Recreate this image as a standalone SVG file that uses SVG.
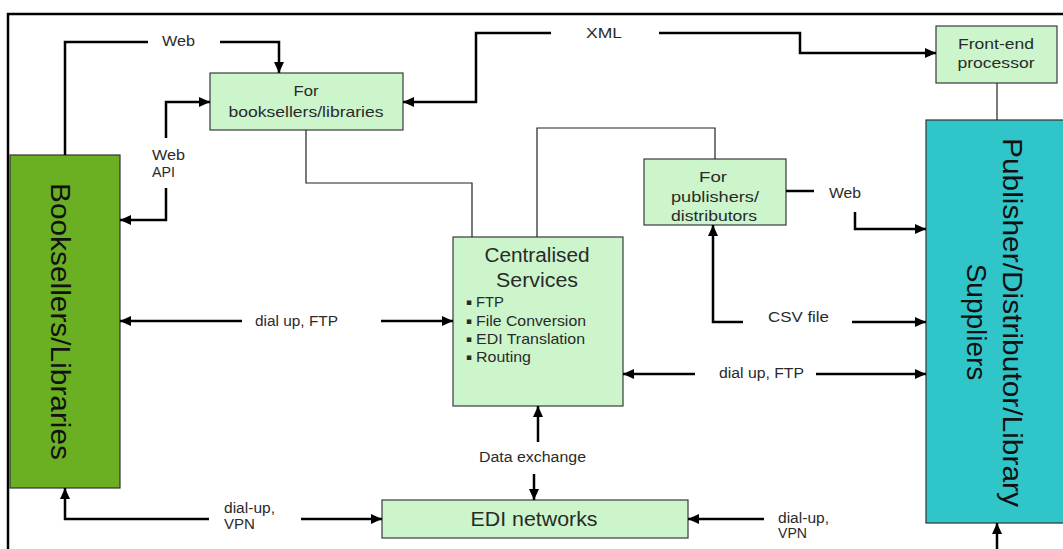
<svg xmlns="http://www.w3.org/2000/svg" width="1063" height="549" viewBox="0 0 1063 549">
<style>
.box{fill:#ccf5cc;stroke:#3a3a3a;stroke-width:1.2}
.lbl{font-family:"Liberation Sans",Arial,sans-serif;font-size:14px;fill:#2a2a2a}
.bx{font-family:"Liberation Sans",Arial,sans-serif;font-size:15px;fill:#2a2a2a}
.bul{font-family:"DejaVu Sans",sans-serif;font-size:9px;fill:#2a2a2a}
.ttl{font-family:"Liberation Sans",Arial,sans-serif;font-size:20px;fill:#2a2a2a}
.big{font-family:"Liberation Sans",Arial,sans-serif;font-size:28px;fill:#111}
.c{fill:none;stroke:#000;stroke-width:2.5}
.t{fill:none;stroke:#222;stroke-width:1.2}
</style>
<defs>
<marker id="ah" markerUnits="userSpaceOnUse" markerWidth="12" markerHeight="10" refX="11" refY="5" orient="auto">
<path d="M0,0 L11,5 L0,10 z" fill="#000"/>
</marker>
</defs>
<rect width="1063" height="549" fill="#fff"/>
<path d="M8,549 V14 H1063" fill="none" stroke="#000" stroke-width="2.5"/>

<g id="booksellers">
<rect x="10" y="155" width="110" height="333" fill="#6ab022" stroke="#333" stroke-width="1.2"/>
<text class="big" transform="translate(51,321.5) rotate(90)" text-anchor="middle" font-size="29" textLength="277" lengthAdjust="spacingAndGlyphs" fill="#15230a">Booksellers/Libraries</text>
</g>

<g id="publishers">
<rect x="926" y="120" width="150" height="403" fill="#30c5c9" stroke="#333" stroke-width="1.2"/>
<text class="big" transform="translate(1003,322.5) rotate(90)" text-anchor="middle" textLength="369" lengthAdjust="spacingAndGlyphs">Publisher/Distributor/Library</text>
<text class="big" transform="translate(967,322) rotate(90)" text-anchor="middle">Suppliers</text>
</g>

<g id="for-booksellers">
<rect class="box" x="210" y="73" width="193" height="57"/>
<text class="bx" x="306" y="96" text-anchor="middle" textLength="25" lengthAdjust="spacingAndGlyphs">For</text>
<text class="bx" x="306" y="117" text-anchor="middle" textLength="155" lengthAdjust="spacingAndGlyphs">booksellers/libraries</text>
</g>

<g id="front-end">
<rect class="box" x="936" y="26" width="121" height="57"/>
<text class="bx" x="996" y="49" text-anchor="middle" textLength="76" lengthAdjust="spacingAndGlyphs">Front-end</text>
<text class="bx" x="996" y="68" text-anchor="middle" textLength="77" lengthAdjust="spacingAndGlyphs">processor</text>
</g>

<g id="for-publishers">
<rect class="box" x="644" y="159" width="142" height="66"/>
<text class="bx" x="713" y="182" text-anchor="middle" textLength="28" lengthAdjust="spacingAndGlyphs">For</text>
<text class="bx" x="715" y="202" text-anchor="middle" textLength="88" lengthAdjust="spacingAndGlyphs">publishers/</text>
<text class="bx" x="714" y="221" text-anchor="middle" textLength="86" lengthAdjust="spacingAndGlyphs">distributors</text>
</g>

<g id="centralised">
<rect class="box" x="453" y="237" width="170" height="169"/>
<text class="ttl" x="537" y="262" text-anchor="middle" textLength="105" lengthAdjust="spacingAndGlyphs">Centralised</text>
<text class="ttl" x="537" y="287" text-anchor="middle" textLength="82" lengthAdjust="spacingAndGlyphs">Services</text>
<text class="bul" x="466" y="305">▪</text>
<text class="bul" x="466" y="324">▪</text>
<text class="bul" x="466" y="342">▪</text>
<text class="bul" x="466" y="360">▪</text>
<g class="bx">
<text x="476" y="307" textLength="28" lengthAdjust="spacingAndGlyphs">FTP</text>
<text x="476" y="326" textLength="110" lengthAdjust="spacingAndGlyphs">File Conversion</text>
<text x="476" y="344" textLength="109" lengthAdjust="spacingAndGlyphs">EDI Translation</text>
<text x="476" y="362" textLength="55" lengthAdjust="spacingAndGlyphs">Routing</text>
</g>
</g>

<g id="edi">
<rect class="box" x="382" y="500" width="306" height="38"/>
<text class="ttl" x="534" y="526" text-anchor="middle" textLength="127" lengthAdjust="spacingAndGlyphs">EDI networks</text>
</g>

<g id="connectors">
<path class="c" d="M65,155 V42 H148"/>
<path class="c" d="M220,42 H279 V73" marker-end="url(#ah)"/>
<path class="c" d="M166,138 V102 H210" marker-end="url(#ah)"/>
<path class="c" d="M166,188 V220 H120" marker-end="url(#ah)"/>
<path class="c" d="M551,33 H476 V102 H403" marker-end="url(#ah)"/>
<path class="c" d="M659,33 H800 V53 H936" marker-end="url(#ah)"/>
<path class="t" d="M306,130 V183 H472 V237"/>
<path class="t" d="M537,237 V128 H715 V159"/>
<path class="t" d="M997,83 V120"/>
<path class="c" d="M786,191 H814"/>
<path class="c" d="M855,212 V229 H926" marker-end="url(#ah)"/>
<path class="c" d="M743,322 H713 V225" marker-end="url(#ah)"/>
<path class="c" d="M852,322 H926" marker-end="url(#ah)"/>
<path class="c" d="M695,374 H623" marker-end="url(#ah)"/>
<path class="c" d="M816,374 H926" marker-end="url(#ah)"/>
<path class="c" d="M242,321 H120" marker-end="url(#ah)"/>
<path class="c" d="M381,321 H453" marker-end="url(#ah)"/>
<path class="c" d="M538,442 V406" marker-end="url(#ah)"/>
<path class="c" d="M534,474 V500" marker-end="url(#ah)"/>
<path class="c" d="M209,519 H65 V488" marker-end="url(#ah)"/>
<path class="c" d="M301,519 H382" marker-end="url(#ah)"/>
<path class="c" d="M764,519 H688" marker-end="url(#ah)"/>
<path class="c" d="M997,549 V523" marker-end="url(#ah)"/>
</g>

<g id="labels" class="lbl">
<text x="162" y="46" textLength="33" lengthAdjust="spacingAndGlyphs">Web</text>
<text x="586" y="38" font-size="15" textLength="36" lengthAdjust="spacingAndGlyphs">XML</text>
<text x="152" y="160" textLength="33" lengthAdjust="spacingAndGlyphs">Web</text>
<text x="152" y="177" textLength="23" lengthAdjust="spacingAndGlyphs">API</text>
<text x="829" y="198" textLength="32" lengthAdjust="spacingAndGlyphs">Web</text>
<text x="768" y="322" textLength="61" lengthAdjust="spacingAndGlyphs">CSV  file</text>
<text x="255" y="326" textLength="83" lengthAdjust="spacingAndGlyphs">dial up, FTP</text>
<text x="719" y="378" textLength="85" lengthAdjust="spacingAndGlyphs">dial up, FTP</text>
<text x="479" y="462" textLength="107" lengthAdjust="spacingAndGlyphs">Data exchange</text>
<text x="224" y="513" textLength="51" lengthAdjust="spacingAndGlyphs">dial-up,</text>
<text x="224" y="529" textLength="31" lengthAdjust="spacingAndGlyphs">VPN</text>
<text x="778" y="523" textLength="51" lengthAdjust="spacingAndGlyphs">dial-up,</text>
<text x="778" y="538" textLength="29" lengthAdjust="spacingAndGlyphs">VPN</text>
</g>
</svg>
